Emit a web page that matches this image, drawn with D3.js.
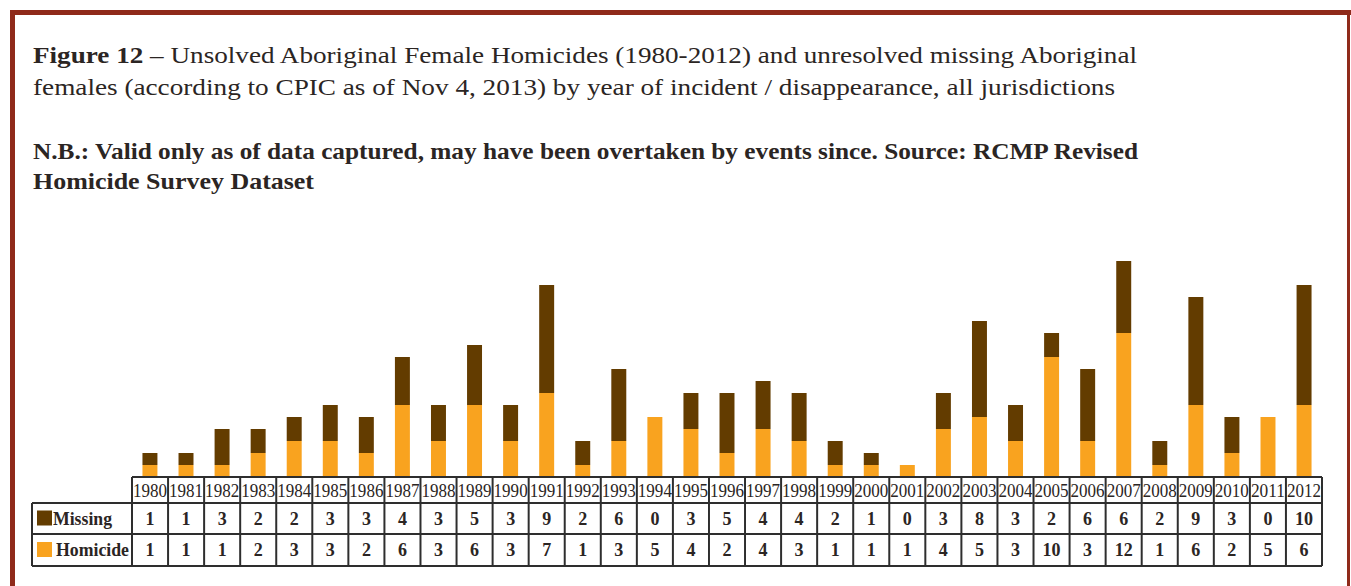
<!DOCTYPE html>
<html>
<head>
<meta charset="utf-8">
<script src="https://cdn.jsdelivr.net/npm/d3@7"></script>
<style>
  body { margin: 0; background: #fff; }
  svg text { font-family: "Liberation Serif", "Times New Roman", "DejaVu Serif", serif; fill: #2b2523; }
</style>
</head>
<body>
<div id="chart"></div>
<script>
var width = 1351, height = 586;

var years = d3.range(1980, 2013);
var missing = [1, 1, 3, 2, 2, 3, 3, 4, 3, 5, 3, 9, 2, 6, 0, 3, 5, 4, 4, 2, 1, 0, 3, 8, 3, 2, 6, 6, 2, 9, 3, 0, 10];
var homicide = [1, 1, 1, 2, 3, 3, 2, 6, 3, 6, 3, 7, 1, 3, 5, 4, 2, 4, 3, 1, 1, 1, 4, 5, 3, 10, 3, 12, 1, 6, 2, 5, 6];
var seriesNames = ["Missing", "Homicide"];
var colors = { Missing: "#633c00", Homicide: "#f9a31f" };

var titleLine1 = ["Figure 12", " \u2013 Unsolved Aboriginal Female Homicides (1980-2012) and unresolved missing Aboriginal"];
var titleLine2 = "females (according to CPIC as of Nov 4, 2013) by year of incident / disappearance, all jurisdictions";
var noteLines = ["N.B.: Valid only as of data captured, may have been overtaken by events since. Source: RCMP Revised",
  "Homicide Survey Dataset"];

var margin = { left: 132, right: 29, top: 0, bottom: 109 };

var svg = d3.select("#chart")
  .append("svg")
  .attr("width", width)
  .attr("height", height);

// frame
svg.append("path")
  .attr("d", "M12.5,600 V12.5 H1351")
  .attr("fill", "none")
  .attr("stroke", "#8f2a1a")
  .attr("stroke-width", 5);
svg.append("line")
  .attr("x1", 1348.5).attr("x2", 1348.5)
  .attr("y1", 12).attr("y2", 600)
  .attr("stroke", "#8f2a1a")
  .attr("stroke-width", 3);

// titles
var t1 = svg.append("text")
  .attr("x", 33).attr("y", 63)
  .attr("textLength", 1104)
  .attr("lengthAdjust", "spacingAndGlyphs")
  .style("font-size", "24px");
t1.append("tspan").style("font-weight", "bold").text(titleLine1[0]);
t1.append("tspan").text(titleLine1[1]);

svg.append("text")
  .attr("x", 33).attr("y", 95)
  .attr("textLength", 1082)
  .attr("lengthAdjust", "spacingAndGlyphs")
  .style("font-size", "24px")
  .text(titleLine2);

svg.selectAll(".note")
  .data(noteLines)
  .enter()
  .append("text")
  .attr("class", "note")
  .attr("x", 33)
  .attr("y", (d, i) => 159 + i * 30)
  .attr("textLength", (d, i) => i == 0 ? 1105 : 281)
  .attr("lengthAdjust", "spacingAndGlyphs")
  .style("font-size", "24px")
  .style("font-weight", "bold")
  .text(d => d);

// scales
var xCol = d3.scaleBand()
  .domain(years)
  .range([margin.left, width - margin.right]);
var xBar = d3.scaleBand()
  .domain(years)
  .range(xCol.range())
  .paddingInner(0.585)
  .paddingOuter(0.29);

var yScale = d3.scaleLinear()
  .domain([0, 18])
  .range([477, 261]);

var rows = years.map((y, i) => ({ year: y, Homicide: homicide[i], Missing: missing[i] }));
var stacked = d3.stack().keys(["Homicide", "Missing"])(rows);

svg.append("g")
  .attr("class", "bars")
  .selectAll("g")
  .data(stacked)
  .enter()
  .append("g")
  .attr("fill", d => colors[d.key])
  .selectAll("rect")
  .data(d => d)
  .enter()
  .append("rect")
  .attr("x", d => xBar(d.data.year))
  .attr("width", xBar.bandwidth())
  .attr("y", d => yScale(d[1]))
  .attr("height", d => yScale(d[0]) - yScale(d[1]));

// data table
var colW = xCol.bandwidth();
var x0 = xCol.range()[0], x1 = xCol.range()[1];
var rowY = [477, 503, 534, 566];
var labelX = 32;
var table = svg.append("g")
  .attr("class", "table")
  .attr("stroke", "#2e2e2e")
  .attr("stroke-width", 2)
  .attr("fill", "none");

// horizontal lines
table.append("line").attr("x1", x0).attr("x2", x1).attr("y1", rowY[0]).attr("y2", rowY[0]);
rowY.slice(1).forEach(y => {
  table.append("line").attr("x1", labelX).attr("x2", x1).attr("y1", y).attr("y2", y);
});
// vertical lines
years.concat([null]).forEach((y, i) => {
  var x = x0 + i * colW;
  table.append("line").attr("x1", x).attr("x2", x).attr("y1", rowY[0]).attr("y2", rowY[3]);
});
table.append("line").attr("x1", labelX).attr("x2", labelX).attr("y1", rowY[1]).attr("y2", rowY[3]);

svg.append("g")
  .selectAll("text")
  .data(years)
  .enter()
  .append("text")
  .attr("x", d => xCol(d) + colW / 2)
  .attr("y", 497)
  .attr("text-anchor", "middle")
  .attr("textLength", colW - 2)
  .attr("lengthAdjust", "spacingAndGlyphs")
  .style("font-size", "18px")
  .text(d => d);

var rowData = [missing, homicide];
seriesNames.forEach((name, r) => {
  var cy = (rowY[r + 1] + rowY[r + 2]) / 2;
  svg.append("g")
    .selectAll("text")
    .data(rowData[r])
    .enter()
    .append("text")
    .attr("x", (d, i) => xCol(years[i]) + colW / 2)
    .attr("y", cy + 6)
    .attr("text-anchor", "middle")
    .style("font-size", "18px")
    .style("font-weight", "bold")
    .text(d => d);

  svg.append("rect")
    .attr("x", 37)
    .attr("y", cy - 8)
    .attr("width", 15)
    .attr("height", 15)
    .attr("fill", colors[name]);

  svg.append("text")
    .attr("x", r == 0 ? 53 : 56)
    .attr("y", cy + 6)
    .attr("textLength", r == 0 ? 59 : 73)
    .attr("lengthAdjust", "spacingAndGlyphs")
    .style("font-size", "18px")
    .style("font-weight", "bold")
    .text(name);
});
</script>
</body>
</html>
